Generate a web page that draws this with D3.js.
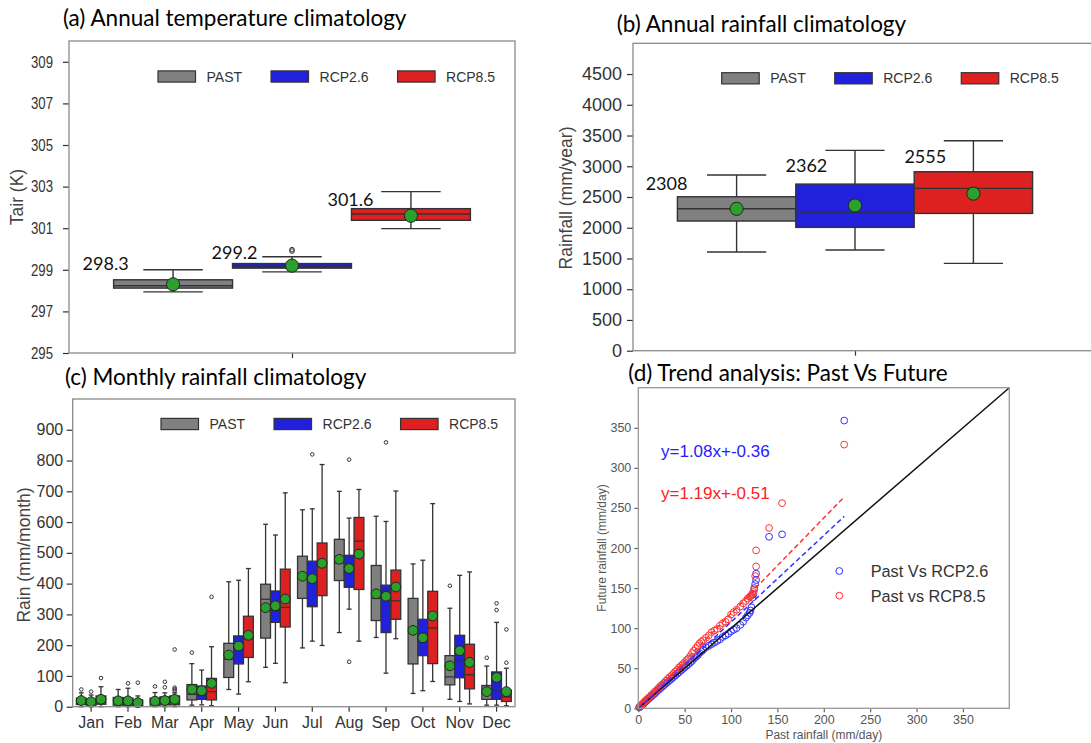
<!DOCTYPE html>
<html><head><meta charset="utf-8">
<script src="https://cdn.jsdelivr.net/npm/d3@7"></script>
<style>body{margin:0;background:#fff} svg{display:block}</style>
</head><body><svg id="c" width="1091" height="743"></svg>
<script>
// ---------------- DATA ----------------
const hues = ["PAST", "RCP2.6", "RCP8.5"];
const hueFill = ["#808080", "#2121dc", "#dd2121"];

// (a) annual temperature (K)
const tempTicks = [295, 297, 299, 301, 303, 305, 307, 309];
const tempLo   = [297.94, 298.90, 300.98];
const tempQ1   = [298.12, 299.08, 301.38];
const tempMed  = [298.23, 299.18, 301.68];
const tempQ3   = [298.52, 299.30, 301.94];
const tempHi   = [299.00, 299.63, 302.76];
const tempMean = [298.3, 299.2, 301.6];
const tempOut  = [[], [299.90, 299.97], []];
const tempLabels = ["298.3", "299.2", "301.6"];

// (b) annual rainfall (mm/year)
const rainTicks = [0, 500, 1000, 1500, 2000, 2500, 3000, 3500, 4000, 4500];
const rainLo   = [1605, 1637, 1420];
const rainQ1   = [2109, 2006, 2233];
const rainMed  = [2309, 2255, 2640];
const rainQ3   = [2504, 2710, 2911];
const rainHi   = [2857, 3258, 3415];
const rainMean = [2308, 2362, 2555];
const rainLabels = ["2308", "2362", "2555"];

// (c) monthly rainfall (mm/month)
const months = ["Jan","Feb","Mar","Apr","May","Jun","Jul","Aug","Sep","Oct","Nov","Dec"];
const monTicks = [0, 100, 200, 300, 400, 500, 600, 700, 800, 900];
const pastLo   = [0, 0, 0, 5, 56, 128, 191, 241, 225, 43, 24, 5];
const pastQ1   = [7, 5, 5, 22, 95, 223, 352, 410, 280, 139, 71, 24];
const pastMed  = [14, 14, 12, 40, 154, 349, 425, 467, 352, 240, 97, 43];
const pastQ3   = [28, 30, 28, 72, 206, 398, 489, 544, 459, 352, 166, 69];
const pastHi   = [45, 56, 46, 140, 406, 593, 640, 700, 619, 464, 320, 132];
const pastMean = [20, 19, 18, 56, 168, 322, 424, 479, 367, 248, 133, 49];
const pastOut  = [[56], [], [66], [176], [], [], [], [], [], [], [393], [159]];
const r26Lo    = [0, 0, 0, 6, 41, 141, 213, 317, 109, 52, 17, 5];
const r26Q1    = [5, 5, 6, 24, 139, 274, 325, 388, 241, 166, 94, 24];
const r26Med   = [12, 13, 15, 38, 195, 312, 415, 485, 380, 225, 152, 51];
const r26Q3    = [24, 28, 32, 67, 230, 376, 473, 492, 395, 284, 232, 113];
const r26Hi    = [38, 60, 45, 119, 411, 558, 643, 613, 602, 476, 427, 274];
const r26Mean  = [16, 19, 20, 52, 197, 328, 416, 449, 359, 224, 182, 95];
const r26Out   = [[49], [76], [63, 81], [], [], [], [820], [146, 803], [859], [], [], [314, 336]];
const r85Lo    = [0, 0, 0, 3, 81, 78, 199, 213, 221, 82, 9, 3];
const r85Q1    = [8, 3, 6, 22, 160, 259, 361, 381, 284, 140, 58, 17];
const r85Med   = [15, 9, 15, 49, 220, 323, 465, 538, 344, 256, 104, 32];
const r85Q3    = [35, 22, 35, 92, 294, 447, 532, 615, 444, 375, 203, 54];
const r85Hi    = [65, 35, 45, 195, 449, 695, 787, 706, 701, 660, 438, 125];
const r85Mean  = [24, 13, 24, 76, 232, 350, 466, 496, 389, 295, 144, 49];
const r85Out   = [[93], [78], [52, 57, 62, 186], [357], [], [], [], [], [], [], [], [143, 251]];

// (d) quantile comparison (mm/day)
const qqTicks = [0, 50, 100, 150, 200, 250, 300, 350];
const pastQ = [1,2,3,4,5,6,7,8,9,10,12,14,16,18,20,22,24,26,28,30,32,34,36,38,40,42,44,46,48,50,
  52,54,56,58,60,62,64,66,68,70,73,76,79,82,85,88,91,94,97,100,103,106,110,113,116,118,120,
  121,122,123,124,125,126,127,127,141,155,222];
const futR26 = [1,2,3,4,5,6,7.5,8.5,9.5,10.5,12.5,14.5,16.5,18.5,21,23,25,27,29,31,33,35,37,39,41,43,45,47,49,51,
  53,55,57,59,62,64,66,69,71,73,76,78,80,82,84,86,89,91,93,96,98,100,104,108,113,116,119,
  122,126,138,142,150,155,160,168,214,217,359];
const futR85 = [1.5,2.5,3.5,5,6,7,8.5,9.5,10.5,12,14,16.5,18.5,21,23,25.5,28,30,32,34.5,37,39,41,43.5,46,48,51,53,55,57.5,
  60,62,65,69,72,75,78,81,83,85,88,91,95,97,99,103,106,108,111,117,120,123,127,131,134,137,139,
  140,141,143,145,148,165,177,197,225,256,329];
const fitSlope = [1.08, 1.19];
const fitIntercept = [-0.36, -0.51];
const fitXEnd = 222;
const fitLabels = ["y=1.08x+-0.36", "y=1.19x+-0.51"];
const qqLegend = ["Past Vs RCP2.6", "Past vs RCP8.5"];

// ---------------- DRAWING ----------------
const svg = d3.select("#c");
const SANS = "'Liberation Sans', Arial, sans-serif";
const CAL = "Lato, 'Open Sans', sans-serif";
const EDGE = "#333";
const GREEN = "#2ca02c";

function stats(lo, q1, med, q3, hi, mean, out, i) {
  return {lo: lo[i], q1: q1[i], med: med[i], q3: q3[i], hi: hi[i], mean: mean[i], out: out ? out[i] : []};
}

function drawBox(g, cx, w, s, y, fill, o) {
  const lw = o.lw;
  const cap = w / 2;
  g.append("line").attr("x1", cx).attr("x2", cx).attr("y1", y(s.lo)).attr("y2", y(s.q1))
    .attr("stroke", EDGE).attr("stroke-width", lw);
  g.append("line").attr("x1", cx).attr("x2", cx).attr("y1", y(s.q3)).attr("y2", y(s.hi))
    .attr("stroke", EDGE).attr("stroke-width", lw);
  [s.lo, s.hi].forEach(v => g.append("line").attr("x1", cx - cap / 2).attr("x2", cx + cap / 2)
    .attr("y1", y(v)).attr("y2", y(v)).attr("stroke", EDGE).attr("stroke-width", lw));
  g.append("rect").attr("x", cx - w / 2).attr("y", y(s.q3)).attr("width", w)
    .attr("height", Math.max(0.5, y(s.q1) - y(s.q3))).attr("fill", fill)
    .attr("stroke", EDGE).attr("stroke-width", lw);
  g.append("line").attr("x1", cx - w / 2).attr("x2", cx + w / 2).attr("y1", y(s.med)).attr("y2", y(s.med))
    .attr("stroke", EDGE).attr("stroke-width", lw);
  s.out.forEach(v => g.append("circle").attr("cx", cx).attr("cy", y(v)).attr("r", o.outR)
    .attr("fill", "none").attr("stroke", EDGE).attr("stroke-width", 1));
  g.append("circle").attr("cx", cx).attr("cy", y(s.mean)).attr("r", o.meanR)
    .attr("fill", GREEN).attr("stroke", "#222").attr("stroke-width", 1);
}

function styleAxis(g, size, color) {
  g.select(".domain").remove();
  g.selectAll(".tick line").attr("stroke", "#333").attr("stroke-width", 1.2);
  g.selectAll(".tick text").attr("font-family", SANS).attr("font-size", size).attr("fill", color);
}

function frame(x0, y0, x1, y1, color) {
  svg.append("rect").attr("x", x0).attr("y", y0).attr("width", x1 - x0).attr("height", y1 - y0)
    .attr("fill", "none").attr("stroke", color || "#8a8a8a").attr("stroke-width", 1.3);
}

function title(txt, x, y) {
  svg.append("text").attr("x", x).attr("y", y).text(txt)
    .attr("font-family", CAL).attr("font-size", 22.5).attr("fill", "#000");
}

function ylabel(txt, x, y, size, color) {
  svg.append("text").attr("transform", `translate(${x},${y}) rotate(-90)`)
    .attr("text-anchor", "middle").attr("dominant-baseline", "central")
    .attr("font-family", SANS).attr("font-size", size).attr("fill", color).text(txt);
}

function legend(x0, yc) {
  let x = x0;
  hues.forEach((h, i) => {
    svg.append("rect").attr("x", x).attr("y", yc - 5.6).attr("width", 37.5).attr("height", 11.2)
      .attr("fill", hueFill[i]).attr("stroke", EDGE).attr("stroke-width", 1.2);
    const t = svg.append("text").attr("x", x + 48.5).attr("y", yc).attr("dominant-baseline", "central")
      .attr("font-family", SANS).attr("font-size", 14).attr("fill", "#333").text(h);
    x = x + 48.5 + t.node().getComputedTextLength() + 29;
  });
}

// ===== Panel (a) =====
{
  const L = 69, R = 515, T = 41, B = 353;
  const y = d3.scaleLinear().domain([295, 310]).range([B, T]);
  const xc = d3.scaleLinear().domain([-0.5, 0.5]).range([L, R]);
  const xb = d3.scaleBand().domain(hues).range([xc(-0.4), xc(0.4)]);
  const g = svg.append("g");
  hues.forEach((h, i) => {
    const s = stats(tempLo, tempQ1, tempMed, tempQ3, tempHi, tempMean, tempOut, i);
    drawBox(g, xb(h) + xb.bandwidth() / 2, xb.bandwidth(), s, y, hueFill[i], {lw: 1.4, meanR: 6.6, outR: 2.3});
  });
  const dx = [15, 25, 22], dy = [10, 5, 2.5];
  hues.forEach((h, i) => {
    svg.append("text").attr("x", xb(h) + dx[i]).attr("y", y(tempQ3[i]) - dy[i])
      .attr("text-anchor", "end").attr("font-family", CAL).attr("font-size", 18).attr("fill", "#111")
      .text(tempLabels[i]);
  });
  const ay = svg.append("g").attr("transform", `translate(${L},0)`)
    .call(d3.axisLeft(y).tickValues(tempTicks).tickFormat(d3.format("d")).tickSize(6).tickPadding(10));
  styleAxis(ay, 16.5, "#333");
  ay.selectAll(".tick text").attr("textLength", 22).attr("lengthAdjust", "spacingAndGlyphs");
  const ax = svg.append("g").attr("transform", `translate(0,${B})`)
    .call(d3.axisBottom(xc).tickValues([0]).tickFormat("").tickSize(5));
  styleAxis(ax, 12, "#333");
  frame(L, T, R, B);
  legend(158, 76.5);
  ylabel("Tair (K)", 17, 197, 17.5, "#444");
  title("(a) Annual temperature climatology", 63, 26);
}

// ===== Panel (b) =====
{
  const L = 633, R = 1077, T = 43.3, B = 350.7;
  const y = d3.scaleLinear().domain([0, 5000]).range([B, T]);
  const xc = d3.scaleLinear().domain([-0.5, 0.5]).range([L, R]);
  const xb = d3.scaleBand().domain(hues).range([xc(-0.4), xc(0.4)]);
  const g = svg.append("g");
  hues.forEach((h, i) => {
    const s = stats(rainLo, rainQ1, rainMed, rainQ3, rainHi, rainMean, null, i);
    drawBox(g, xb(h) + xb.bandwidth() / 2, xb.bandwidth(), s, y, hueFill[i], {lw: 1.4, meanR: 6.6, outR: 2.3});
  });
  const dx = [10, 31.5, 32], dy = [7, 12, 9];
  hues.forEach((h, i) => {
    svg.append("text").attr("x", xb(h) + dx[i]).attr("y", y(rainQ3[i]) - dy[i])
      .attr("text-anchor", "end").attr("font-family", CAL).attr("font-size", 18).attr("fill", "#111")
      .text(rainLabels[i]);
  });
  const ay = svg.append("g").attr("transform", `translate(${L},0)`)
    .call(d3.axisLeft(y).tickValues(rainTicks).tickFormat(d3.format("d")).tickSize(6).tickPadding(5));
  styleAxis(ay, 18, "#333");
  const ax = svg.append("g").attr("transform", `translate(0,${B})`)
    .call(d3.axisBottom(xc).tickValues([0]).tickFormat("").tickSize(5));
  styleAxis(ax, 12, "#333");
  frame(L, T, 1100, B);
  legend(721.7, 78.3);
  ylabel("Rainfall (mm/year)", 565.7, 198, 17.5, "#444");
  title("(b) Annual rainfall climatology", 616.7, 32.3);
}

// ===== Panel (c) =====
{
  const L = 72.7, R = 515, T = 399, B = 706.7;
  const y = d3.scaleLinear().domain([0, 1000]).range([B, T]);
  const xm = d3.scaleBand().domain(months).range([L, R]);
  const bw = xm.bandwidth();
  const xh = d3.scaleBand().domain(hues).range([0.1 * bw, 0.9 * bw]);
  const g = svg.append("g");
  const sets = [
    [pastLo, pastQ1, pastMed, pastQ3, pastHi, pastMean, pastOut],
    [r26Lo, r26Q1, r26Med, r26Q3, r26Hi, r26Mean, r26Out],
    [r85Lo, r85Q1, r85Med, r85Q3, r85Hi, r85Mean, r85Out]
  ];
  months.forEach((m, mi) => {
    hues.forEach((h, hi) => {
      const a = sets[hi];
      const s = stats(a[0], a[1], a[2], a[3], a[4], a[5], a[6], mi);
      drawBox(g, xm(m) + xh(h) + xh.bandwidth() / 2, xh.bandwidth(), s, y, hueFill[hi],
        {lw: 1.3, meanR: 4.9, outR: 1.8});
    });
  });
  const ay = svg.append("g").attr("transform", `translate(${L},0)`)
    .call(d3.axisLeft(y).tickValues(monTicks).tickFormat(d3.format("d")).tickSize(6).tickPadding(3.5));
  styleAxis(ay, 16, "#333");
  const ax = svg.append("g").attr("transform", `translate(0,${B})`)
    .call(d3.axisBottom(xm).tickSize(5).tickPadding(5));
  styleAxis(ax, 16, "#333");
  frame(L, T, R, B);
  legend(161, 424);
  ylabel("Rain (mm/month)", 24, 555, 17.5, "#444");
  title("(c) Monthly rainfall climatology", 65, 385);
}

// ===== Panel (d) =====
{
  const L = 638.3, R = 1009.3, T = 387.7, B = 708.3;
  const x = d3.scaleLinear().domain([0, 400]).range([L, R]);
  const y = d3.scaleLinear().domain([0, 400]).range([B, T]);
  const cols = ["#3333ff", "#ff3333"];
  const textCols = ["#2222ff", "#ff2020"];
  const g = svg.append("g");
  [futR26, futR85].forEach((fut, si) => {
    g.selectAll(null).data(pastQ.map((p, i) => [p, fut[i]])).enter().append("circle")
      .attr("cx", d => x(d[0])).attr("cy", d => y(d[1])).attr("r", 3.4)
      .attr("fill", "none").attr("stroke", cols[si]).attr("stroke-width", 1);
  });
  g.append("line").attr("x1", x(0)).attr("y1", y(0)).attr("x2", x(400)).attr("y2", y(400))
    .attr("stroke", "#111").attr("stroke-width", 1.5);
  [1, 0].forEach(si => {
    g.append("line").attr("x1", x(0)).attr("y1", y(fitIntercept[si]))
      .attr("x2", x(fitXEnd)).attr("y2", y(fitSlope[si] * fitXEnd + fitIntercept[si]))
      .attr("stroke", cols[si]).attr("stroke-width", 1.5).attr("stroke-dasharray", "5,3");
  });
  [451.7, 493.3].forEach((yy, si) => {
    svg.append("text").attr("x", 661).attr("y", yy).attr("dominant-baseline", "central")
      .attr("font-family", SANS).attr("font-size", 17).attr("fill", textCols[si]).text(fitLabels[si]);
  });
  const ay = svg.append("g").attr("transform", `translate(${L},0)`)
    .call(d3.axisLeft(y).tickValues(qqTicks).tickSize(4).tickPadding(3));
  styleAxis(ay, 12.5, "#555");
  const ax = svg.append("g").attr("transform", `translate(0,${B})`)
    .call(d3.axisBottom(x).tickValues(qqTicks).tickSize(4).tickPadding(3));
  styleAxis(ax, 12.5, "#555");
  ax.selectAll(".tick line").attr("stroke", "#666");
  ay.selectAll(".tick line").attr("stroke", "#666");
  frame(L, T, R, B, "#999");
  [571, 595.7].forEach((yy, si) => {
    svg.append("circle").attr("cx", 839.3).attr("cy", yy).attr("r", 3.4)
      .attr("fill", "none").attr("stroke", cols[si]).attr("stroke-width", 1);
    svg.append("text").attr("x", 870.7).attr("y", yy).attr("dominant-baseline", "central")
      .attr("font-family", SANS).attr("font-size", 16.3).attr("fill", "#333").text(qqLegend[si]);
  });
  svg.append("text").attr("x", (L + R) / 2).attr("y", 735).attr("text-anchor", "middle")
    .attr("dominant-baseline", "central").attr("font-family", SANS).attr("font-size", 12)
    .attr("fill", "#555").text("Past rainfall (mm/day)");
  ylabel("Future rainfall (mm/day)", 601.7, (T + B) / 2, 12, "#555");
  title("(d) Trend analysis: Past Vs Future", 628.3, 380.7);
}
</script></body></html>
